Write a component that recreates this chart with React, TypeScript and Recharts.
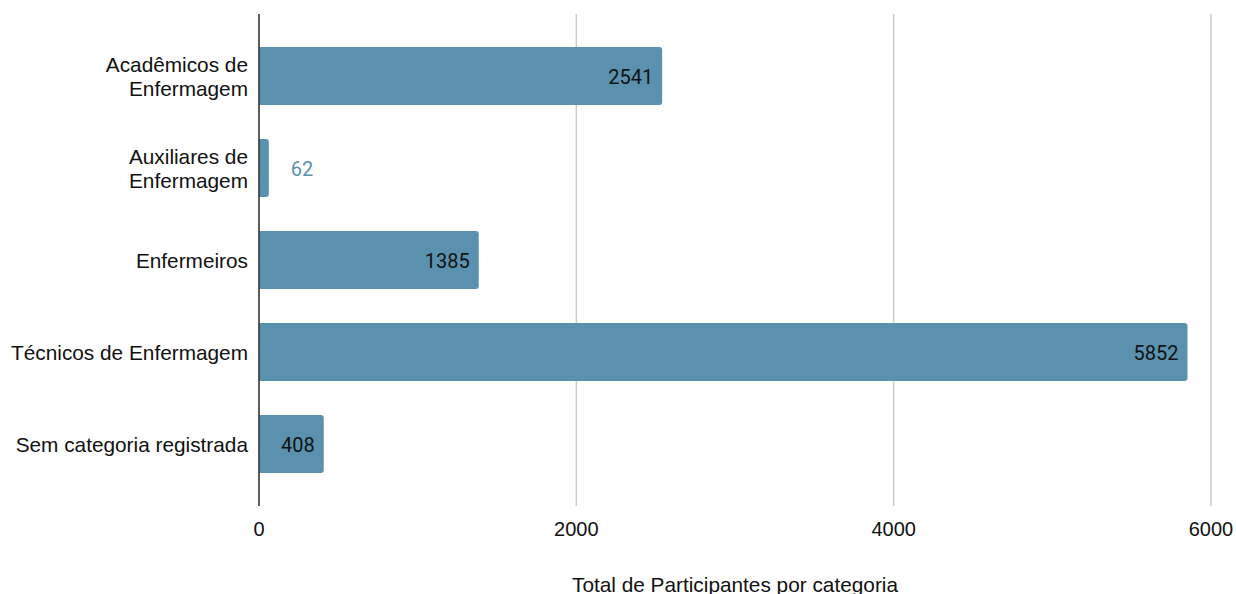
import React from 'react';
import {
  BarChart,
  Bar,
  XAxis,
  YAxis,
  CartesianGrid,
  LabelList,
} from 'recharts';

const categories = [
  'Acadêmicos de\nEnfermagem',
  'Auxiliares de\nEnfermagem',
  'Enfermeiros',
  'Técnicos de Enfermagem',
  'Sem categoria registrada',
];
const participants = [2541, 62, 1385, 5852, 408];
const xTicks = [0, 2000, 4000, 6000];

const BAR_COLOR = '#5a91ae';
const AXIS_FONT = '"Liberation Sans", Arial, sans-serif';

const data = categories.map((name, i) => ({ name, value: participants[i] }));

function CategoryTick({ x, y, payload }: any) {
  const lines = String(payload.value).split('\n');
  const lh = 24;
  const start = -((lines.length - 1) * lh) / 2;
  return (
    <text
      x={x}
      y={y}
      textAnchor="end"
      fontFamily={AXIS_FONT}
      fontSize={20.8}
      fill="#111"
    >
      {lines.map((l, i) => (
        <tspan key={i} x={x} dy={i === 0 ? start + 7.5 : lh}>
          {l}
        </tspan>
      ))}
    </text>
  );
}

function ValueLabel({ x, y, width, height, value }: any) {
  const cy = y + height / 2 + 8;
  if (width < 40) {
    return (
      <text
        x={x + width + 22}
        y={cy}
        fontFamily="Roboto, sans-serif"
        fontSize={20}
        fill={BAR_COLOR}
      >
        {value}
      </text>
    );
  }
  return (
    <text
      x={x + width - 9}
      y={cy}
      textAnchor="end"
      fontFamily="Roboto, sans-serif"
      fontSize={20}
      fill="#111"
    >
      {value}
    </text>
  );
}

export default function App() {
  return (
    <div style={{ position: 'absolute', left: 0, top: 0 }}>
      <BarChart
        width={1236}
        height={594}
        data={data}
        layout="vertical"
        margin={{ top: 14, right: 25, bottom: 0, left: 0 }}
      >
        <CartesianGrid horizontal={false} stroke="#cccccc" strokeWidth={1.5} />
        <XAxis
          type="number"
          domain={[0, 6000]}
          ticks={xTicks}
          axisLine={false}
          tickLine={false}
          tickSize={0}
          tickMargin={16}
          height={88}
          tick={{ fontFamily: AXIS_FONT, fontSize: 20, fill: '#111' }}
          label={{
            value: 'Total de Participantes por categoria',
            position: 'insideBottom',
            offset: 2,
            fontFamily: AXIS_FONT,
            fontSize: 20.8,
            fill: '#111',
          }}
        />
        <YAxis
          type="category"
          dataKey="name"
          width={259}
          padding={{ top: 16, bottom: 16 }}
          axisLine={{ stroke: '#333', strokeWidth: 1.5 }}
          tickLine={false}
          tickSize={0}
          tickMargin={11}
          tick={<CategoryTick />}
          interval={0}
        />
        <Bar
          dataKey="value"
          fill={BAR_COLOR}
          barSize={58}
          radius={[0, 3, 3, 0]}
          isAnimationActive={false}
        >
          <LabelList dataKey="value" content={<ValueLabel />} />
        </Bar>
      </BarChart>
    </div>
  );
}
